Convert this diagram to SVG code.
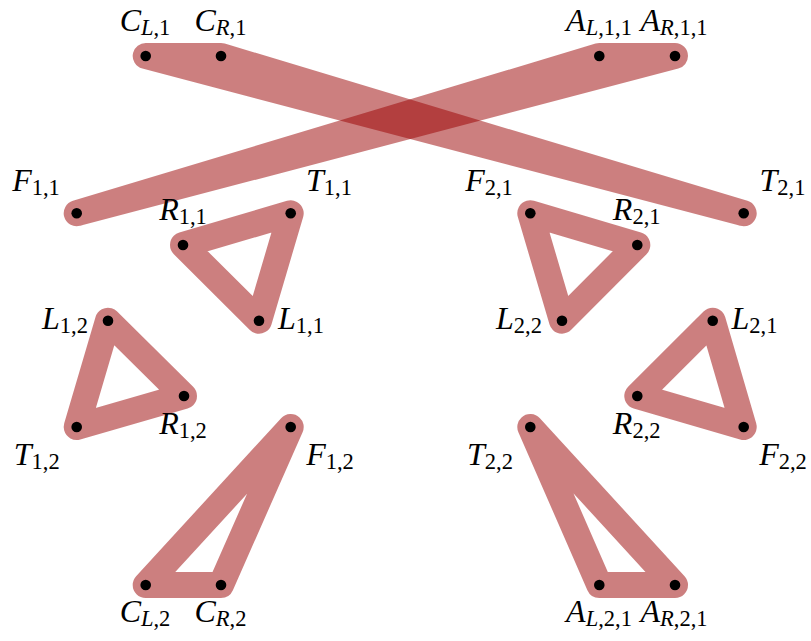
<svg xmlns="http://www.w3.org/2000/svg" width="811" height="641" viewBox="0 0 811 641">
  <style>
    .edge { fill: none; stroke: rgb(153,0,0); stroke-opacity: 0.5; stroke-width: 26; stroke-linejoin: round; stroke-linecap: round; }
    .dot { fill: #000; }
    .lbl { font-family: "Liberation Serif", "DejaVu Serif", serif; font-size: 32px; fill: #000; text-anchor: middle; }
    .it { font-style: italic; }
    .sub { font-size: 22.5px; }
  </style>
  <rect width="811" height="641" fill="#fff"/>

  <!-- hyperedges: each one is the closed outline through its member vertices -->
  <g id="edges">
    <polygon class="edge" points="145.7,56 221,56 743.7,213.3"/>
    <polygon class="edge" points="76.7,213.3 599.3,56 675,56"/>
    <polygon class="edge" points="183,245 290.7,213.3 259,320.7"/>
    <polygon class="edge" points="530.3,213.3 637.3,245 562,320.7"/>
    <polygon class="edge" points="108,320.7 184,396 76.7,427"/>
    <polygon class="edge" points="712.7,320.7 743.7,427 637.3,396"/>
    <polygon class="edge" points="290.7,427 221,585 145.7,585"/>
    <polygon class="edge" points="530.3,427 599.3,585 675,585"/>
  </g>

  <!-- vertices -->
  <g id="CL1"><circle class="dot" cx="145.7" cy="56" r="5.3"/><text class="lbl" x="145" y="31"><tspan class="it">C</tspan><tspan class="sub" dy="4"><tspan class="it">L</tspan>,1</tspan></text></g>
  <g id="CR1"><circle class="dot" cx="221" cy="56" r="5.3"/><text class="lbl" x="220.5" y="31"><tspan class="it">C</tspan><tspan class="sub" dy="4"><tspan class="it">R</tspan>,1</tspan></text></g>
  <g id="AL11"><circle class="dot" cx="599.3" cy="56" r="5.3"/><text class="lbl" x="599" y="31"><tspan class="it">A</tspan><tspan class="sub" dy="4"><tspan class="it">L</tspan>,1,1</tspan></text></g>
  <g id="AR11"><circle class="dot" cx="675" cy="56" r="5.3"/><text class="lbl" x="674" y="31"><tspan class="it">A</tspan><tspan class="sub" dy="4"><tspan class="it">R</tspan>,1,1</tspan></text></g>

  <g id="F11"><circle class="dot" cx="76.7" cy="213.3" r="5.3"/><text class="lbl" x="36" y="191"><tspan class="it">F</tspan><tspan class="sub" dy="4">1,1</tspan></text></g>
  <g id="T11"><circle class="dot" cx="290.7" cy="213.3" r="5.3"/><text class="lbl" x="329" y="191"><tspan class="it">T</tspan><tspan class="sub" dy="4">1,1</tspan></text></g>
  <g id="R11"><circle class="dot" cx="183" cy="245" r="5.3"/><text class="lbl" x="183" y="220"><tspan class="it">R</tspan><tspan class="sub" dy="4">1,1</tspan></text></g>
  <g id="L11"><circle class="dot" cx="259" cy="320.7" r="5.3"/><text class="lbl" x="301" y="329"><tspan class="it">L</tspan><tspan class="sub" dy="4">1,1</tspan></text></g>

  <g id="F21"><circle class="dot" cx="530.3" cy="213.3" r="5.3"/><text class="lbl" x="489" y="191"><tspan class="it">F</tspan><tspan class="sub" dy="4">2,1</tspan></text></g>
  <g id="T21"><circle class="dot" cx="743.7" cy="213.3" r="5.3"/><text class="lbl" x="782.5" y="191"><tspan class="it">T</tspan><tspan class="sub" dy="4">2,1</tspan></text></g>
  <g id="R21"><circle class="dot" cx="637.3" cy="245" r="5.3"/><text class="lbl" x="636.7" y="220"><tspan class="it">R</tspan><tspan class="sub" dy="4">2,1</tspan></text></g>
  <g id="L22"><circle class="dot" cx="562" cy="320.7" r="5.3"/><text class="lbl" x="519" y="329"><tspan class="it">L</tspan><tspan class="sub" dy="4">2,2</tspan></text></g>
  <g id="L21"><circle class="dot" cx="712.7" cy="320.7" r="5.3"/><text class="lbl" x="754.5" y="329"><tspan class="it">L</tspan><tspan class="sub" dy="4">2,1</tspan></text></g>

  <g id="L12"><circle class="dot" cx="108" cy="320.7" r="5.3"/><text class="lbl" x="65" y="329"><tspan class="it">L</tspan><tspan class="sub" dy="4">1,2</tspan></text></g>
  <g id="R12"><circle class="dot" cx="184" cy="396" r="5.3"/><text class="lbl" x="183" y="434"><tspan class="it">R</tspan><tspan class="sub" dy="4">1,2</tspan></text></g>
  <g id="T12"><circle class="dot" cx="76.7" cy="427" r="5.3"/><text class="lbl" x="36.7" y="465"><tspan class="it">T</tspan><tspan class="sub" dy="4">1,2</tspan></text></g>
  <g id="F12"><circle class="dot" cx="290.7" cy="427" r="5.3"/><text class="lbl" x="330" y="465"><tspan class="it">F</tspan><tspan class="sub" dy="4">1,2</tspan></text></g>

  <g id="R22"><circle class="dot" cx="637.3" cy="396" r="5.3"/><text class="lbl" x="636.7" y="434"><tspan class="it">R</tspan><tspan class="sub" dy="4">2,2</tspan></text></g>
  <g id="F22"><circle class="dot" cx="743.7" cy="427" r="5.3"/><text class="lbl" x="783" y="465"><tspan class="it">F</tspan><tspan class="sub" dy="4">2,2</tspan></text></g>
  <g id="T22"><circle class="dot" cx="530.3" cy="427" r="5.3"/><text class="lbl" x="490" y="465"><tspan class="it">T</tspan><tspan class="sub" dy="4">2,2</tspan></text></g>

  <g id="CL2"><circle class="dot" cx="145.7" cy="585" r="5.3"/><text class="lbl" x="145" y="622"><tspan class="it">C</tspan><tspan class="sub" dy="4"><tspan class="it">L</tspan>,2</tspan></text></g>
  <g id="CR2"><circle class="dot" cx="221" cy="585" r="5.3"/><text class="lbl" x="220.5" y="622"><tspan class="it">C</tspan><tspan class="sub" dy="4"><tspan class="it">R</tspan>,2</tspan></text></g>
  <g id="AL21"><circle class="dot" cx="599.3" cy="585" r="5.3"/><text class="lbl" x="599" y="622"><tspan class="it">A</tspan><tspan class="sub" dy="4"><tspan class="it">L</tspan>,2,1</tspan></text></g>
  <g id="AR21"><circle class="dot" cx="675" cy="585" r="5.3"/><text class="lbl" x="674" y="622"><tspan class="it">A</tspan><tspan class="sub" dy="4"><tspan class="it">R</tspan>,2,1</tspan></text></g>
</svg>
